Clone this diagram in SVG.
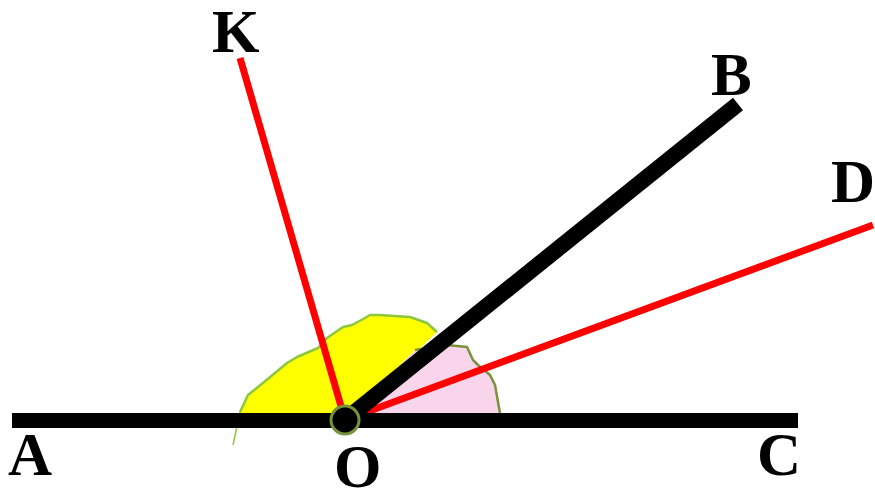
<svg xmlns="http://www.w3.org/2000/svg" width="875" height="492" viewBox="0 0 875 492">
<style>
.lbl{font-family:"Liberation Serif","Times New Roman",serif;font-weight:bold;font-size:61px;fill:#000}
.red{stroke:#ff0000;stroke-width:7;fill:none}
</style>
<rect width="875" height="492" fill="#fff"/>
<g id="angle-fills">
<path id="yellow-sector" d="M240,413 L240,412 L248,395 L258,387 L275,373 L287,363 L297,357 L318,348 L327,338 L343,327 L352,325 L365,318 L370,315 L380,315 L410,317 L427,323 L437,332 L345,420 Z" fill="#ffff00"/>
<path d="M240,412 L248,395 L258,387 L275,373 L287,363 L297,357 L318,348 L327,338 L343,327 L352,325 L365,318 L370,315 L380,315 L410,317 L427,323 L437,332" fill="none" stroke="#8dc63f" stroke-width="2.5" stroke-linejoin="round"/>
<path d="M240,412 L233,445" fill="none" stroke="#8dc63f" stroke-width="1.5"/>
<path id="pink-sector" d="M415,350 L447,345 L467,347 L473,360 L478,365 L490,375 L495,385 L498,402 L500,413 L345,420 Z" fill="#f9d5ec"/>
<path d="M415,350 L447,345 L467,347 L473,360 L478,365 L490,375 L495,385 L498,402 L500,413" fill="none" stroke="#77933c" stroke-width="2.5" stroke-linejoin="round"/>
</g>
<g id="connectors">
<line id="ray-OK" class="red" x1="345" y1="420" x2="240" y2="58"/>
<line id="ray-OD" class="red" x1="345" y1="420" x2="873" y2="225"/>
<line id="ray-OB" x1="345" y1="420" x2="738" y2="104" stroke="#000" stroke-width="16"/>
<line id="line-AC" x1="12" y1="420.5" x2="798" y2="420.5" stroke="#000" stroke-width="15"/>
</g>
<g id="node-O">
<circle cx="345" cy="420" r="14" fill="#000" stroke="#77933c" stroke-width="3"/>
<text class="lbl" x="334" y="487">O</text>
</g>
<g id="node-K"><text class="lbl" x="212" y="52">K</text></g>
<g id="node-B"><text class="lbl" x="711" y="95">B</text></g>
<g id="node-D"><text class="lbl" x="831" y="202">D</text></g>
<g id="node-A"><text class="lbl" x="8" y="475">A</text></g>
<g id="node-C"><text class="lbl" x="757" y="475">C</text></g>
</svg>
